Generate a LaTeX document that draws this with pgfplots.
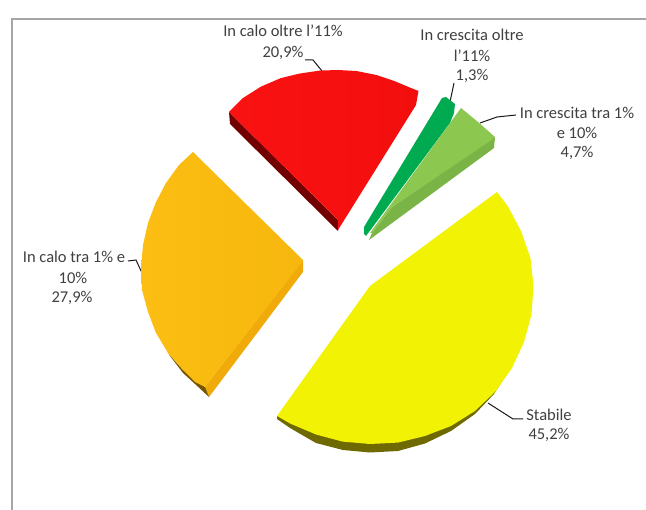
\documentclass[border=0pt]{standalone}
\usepackage{pgfplots}
\pgfplotsset{compat=1.18}
\usepackage{fontspec}
\setmainfont{Carlito}
\definecolor{txt}{HTML}{404040}
\definecolor{frame}{HTML}{A6A6A6}
\tikzset{lab/.style={font=\fontsize{16.5pt}{19pt}\selectfont, text=txt, inner sep=0pt}}
\begin{document}
\begin{tikzpicture}
\begin{axis}[
  scale only axis, width=646pt, height=510pt,
  xmin=0, xmax=646, ymin=0, ymax=510, y dir=reverse,
  axis lines=none, clip=true
]
% background fixes the picture's extent
\addplot[draw=none, fill=white] coordinates {(0,0) (646,0) (646,510) (0,510)} -- cycle;
% frame
\addplot[frame, line width=1.2pt] coordinates {(12,510) (12,19) (646,19)};
% leaders
\addplot[black!90, line width=1pt] coordinates {(305,60) (313,60) (322,71)};
\addplot[black!90, line width=1pt] coordinates {(454,83) (450,102)};
\addplot[black!90, line width=1pt] coordinates {(516,115) (497,117) (480,123)};
\addplot[black!90, line width=1pt] coordinates {(128,261) (136,260) (142,273)};
\addplot[black!90, line width=1pt] coordinates {(488,403) (513,419) (523,419)};
% red
\addplot[draw=none, fill=red!45!black] coordinates {(229,112) (338,220) (338,231) (230,124)} -- cycle;
\addplot[draw=none, left color={rgb,255:red,250;green,18;blue,18}, right color={rgb,255:red,243;green,14;blue,14}] coordinates {
 (229,112) (243,98) (261,86.6) (280.6,78.2) (298.8,73.7) (319.7,70.6) (338,70) (356.3,71) (376.8,75.1) (394.2,81) (408.6,87) (418.5,91) (416,105) (338,230) (338,220)} -- cycle;
% dark green
\addplot[draw=none, fill={rgb,255:red,0;green,170;blue,80}] coordinates {
 (364,234) (364,227) (442,98) (446,97) (455,104) (454,113) (450,123) (366,236)} -- cycle;
% light green
\addplot[draw=none, fill={rgb,255:red,122;green,180;blue,70}] coordinates {(369,240) (372,233) (392,207) (495,137) (494,148)} -- cycle;
\addplot[draw=none, fill={rgb,255:red,140;green,199;blue,80}] coordinates {
 (370,233) (461,108) (478,122) (495,137) (493,139) (392,207) (372,233)} -- cycle;
% orange
\addplot[draw=none, fill={rgb,255:red,240;green,170;blue,10}] coordinates {(303,260) (303,272) (209,397) (205,387)} -- cycle;
\addplot[draw=none, fill={rgb,255:red,120;green,85;blue,0}] coordinates {(168,353) (183,370) (195,380) (205,387) (209,397) (195,384) (183,373) (170,356)} -- cycle;
\addplot[draw=none, left color={rgb,255:red,252;green,190;blue,18}, right color={rgb,255:red,247;green,183;blue,14}] coordinates {
 (193,152) (179,165) (166,183) (156,202) (148,223) (143,245) (141,268) (142,290) (148,312) (156,333) (168,353) (183,370) (195,382) (205,387) (302,262) (303,260)} -- cycle;
% yellow
\addplot[draw=none, fill={rgb,255:red,110;green,105;blue,0}] coordinates {
 (277,416) (277,419) (290,428) (316,443) (343,450) (370,452.5) (398,451) (425,443.5) (451,431) (475,414) (494,394) (505,377) (505,370) (393,430)} -- cycle;
\addplot[draw=none, fill={rgb,255:red,242;green,242;blue,5}] coordinates {
 (277,416) (370,286) (497,192) (508,206.5) (521,231) (530.5,258) (533.5,286) (531.5,314.5) (524,342) (512,368) (495.6,391.4) (475,411) (451,426) (425,436) (398,442.6) (370,444) (342.6,441.6) (316,434.5) (290.5,423.7)} -- cycle;
% labels
\node[lab] at (axis cs:283,31) {In calo oltre l'11\%};
\node[lab] at (axis cs:283,53) {20,9\%};
\node[lab] at (axis cs:472,35) {In crescita oltre};
\node[lab] at (axis cs:472,56) {l'11\%};
\node[lab] at (axis cs:472,76) {1,3\%};
\node[lab] at (axis cs:577,113) {In crescita tra 1\%};
\node[lab] at (axis cs:577,133) {e 10\%};
\node[lab] at (axis cs:577,153) {4,7\%};
\node[lab] at (axis cs:74,257) {In calo tra 1\% e};
\node[lab] at (axis cs:73,278) {10\%};
\node[lab] at (axis cs:72,298) {27,9\%};
\node[lab] at (axis cs:549,415) {Stabile};
\node[lab] at (axis cs:549,435) {45,2\%};
\end{axis}
\end{tikzpicture}
\end{document}
